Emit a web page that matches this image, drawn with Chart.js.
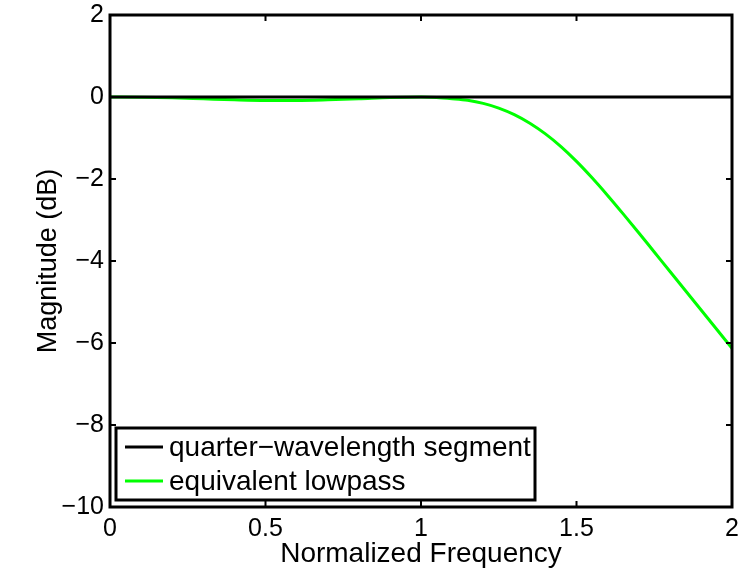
<!DOCTYPE html>
<html>
<head>
<meta charset="utf-8">
<script src="https://cdn.jsdelivr.net/npm/chart.js@4"></script>
<style>
  html, body { margin: 0; padding: 0; background: #fff; }
  #wrap { width: 744px; height: 569px; }
</style>
</head>
<body>
<div id="wrap"><canvas id="grafico"></canvas></div>
<script>
const freq = [0, 0.1, 0.2, 0.3, 0.4, 0.5, 0.6, 0.7, 0.8, 0.9, 1.0, 1.05, 1.1, 1.15, 1.2, 1.25, 1.3,
  1.35, 1.4, 1.45, 1.5, 1.55, 1.6, 1.65, 1.7, 1.75, 1.8, 1.85, 1.9, 1.95, 2.0];
const quarterWave = [0, 0, 0, 0, 0, 0, 0, 0, 0, 0, 0, 0, 0, 0, 0, 0, 0,
  0, 0, 0, 0, 0, 0, 0, 0, 0, 0, 0, 0, 0, 0];
const lowpass = [0, -0.005, -0.02, -0.045, -0.07, -0.085, -0.085, -0.07, -0.045, -0.015, 0, -0.01, -0.04,
  -0.08, -0.155, -0.27, -0.43, -0.64, -0.9, -1.21, -1.57, -1.97, -2.4, -2.85, -3.31, -3.78, -4.25,
  -4.72, -5.19, -5.66, -6.13];
const xTicks = [0, 0.5, 1, 1.5, 2];
const yTicks = [2, 0, -2, -4, -6, -8, -10];

const fontFam = '"Liberation Sans", Arial, sans-serif';

// matlab style frame, inner ticks and legend box inside the axes
const matlabFrame = {
  id: 'matlabFrame',
  afterDatasetsDraw(chart) {
    const { ctx, chartArea: a, scales } = chart;
    ctx.save();
    ctx.strokeStyle = '#000';
    ctx.lineWidth = 2;
    ctx.beginPath();
    xTicks.forEach(v => {
      const px = scales.x.getPixelForValue(v);
      ctx.moveTo(px, a.bottom); ctx.lineTo(px, a.bottom - 6);
      ctx.moveTo(px, a.top); ctx.lineTo(px, a.top + 6);
    });
    yTicks.forEach(v => {
      const py = scales.y.getPixelForValue(v);
      ctx.moveTo(a.left, py); ctx.lineTo(a.left + 6, py);
      ctx.moveTo(a.right, py); ctx.lineTo(a.right - 6, py);
    });
    ctx.stroke();
    ctx.lineWidth = 3;
    ctx.strokeRect(a.left, a.top, a.right - a.left, a.bottom - a.top);

    // legend
    const bx = a.left + 6, by = a.bottom - 79, bw = 419, bh = 72;
    ctx.fillStyle = '#fff';
    ctx.fillRect(bx, by, bw, bh);
    ctx.lineWidth = 3;
    ctx.strokeRect(bx, by, bw, bh);
    ctx.font = '28px ' + fontFam;
    ctx.textBaseline = 'middle';
    chart.data.datasets.forEach((ds, i) => {
      const ly = by + 19 + i * 34;
      ctx.strokeStyle = ds.borderColor;
      ctx.lineWidth = 3;
      ctx.beginPath();
      ctx.moveTo(bx + 9, ly); ctx.lineTo(bx + 47, ly);
      ctx.stroke();
      ctx.fillStyle = '#000';
      ctx.fillText(ds.label, bx + 53, ly + 1);
    });
    ctx.restore();
  }
};

new Chart(document.getElementById('grafico'), {
  type: 'line',
  data: {
    labels: freq,
    datasets: [{
      label: 'quarter\u2212wavelength segment',
      data: freq.map((f, i) => ({ x: f, y: quarterWave[i] })),
      borderColor: '#000000',
      borderWidth: 3,
      pointRadius: 0,
      tension: 0
    }, {
      label: 'equivalent lowpass',
      data: freq.map((f, i) => ({ x: f, y: lowpass[i] })),
      borderColor: '#00ff00',
      borderWidth: 3,
      pointRadius: 0,
      cubicInterpolationMode: 'monotone'
    }]
  },
  options: {
    responsive: true,
    maintainAspectRatio: false,
    animation: false,
    layout: { padding: { top: 15, right: 12, left: 0, bottom: 0 } },
    plugins: {
      legend: { display: false },
      tooltip: { enabled: false }
    },
    scales: {
      x: {
        type: 'linear',
        min: 0,
        max: 2,
        afterFit(s) {
          s.height = 62;
          s.paddingLeft = 0;
          s.paddingRight = 0;
        },
        afterBuildTicks(s) { s.ticks = xTicks.map(v => ({ value: v })); },
        ticks: {
          color: '#000',
          padding: 7,
          maxRotation: 0,
          font: { family: fontFam, size: 25 },
          callback: v => String(v)
        },
        grid: { display: false, drawTicks: false, tickLength: 0 },
        border: { display: false },
        title: {
          display: true,
          text: 'Normalized Frequency',
          color: '#000',
          padding: { top: 0, bottom: -2 },
          font: { family: fontFam, size: 28 }
        }
      },
      y: {
        min: -10,
        max: 2,
        afterFit(s) {
          s.width = 110;
          s.paddingTop = 0;
          s.paddingBottom = 0;
        },
        afterBuildTicks(s) { s.ticks = yTicks.map(v => ({ value: v })); },
        ticks: {
          color: '#000',
          padding: 6,
          font: { family: fontFam, size: 25 },
          callback: v => (v < 0 ? '\u2212' + Math.abs(v) : String(v))
        },
        grid: { display: false, drawTicks: false, tickLength: 0 },
        border: { display: false },
        title: {
          display: true,
          text: 'Magnitude (dB)',
          color: '#000',
          padding: { top: 32, bottom: 0 },
          font: { family: fontFam, size: 27 }
        }
      }
    }
  },
  plugins: [matlabFrame]
});
</script>
</body>
</html>
